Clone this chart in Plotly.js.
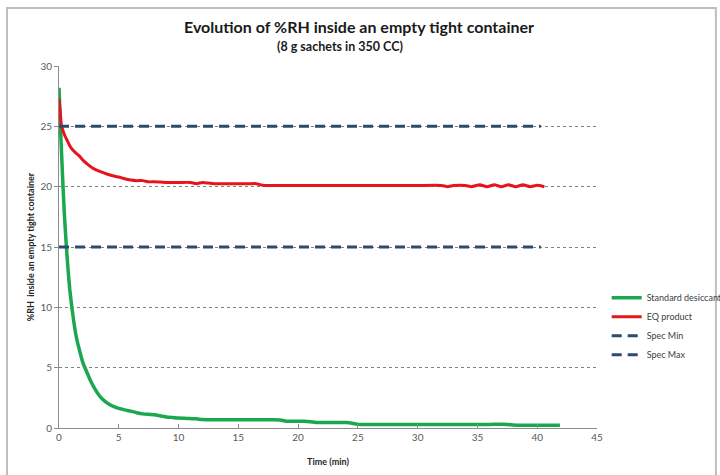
<!DOCTYPE html>
<html>
<head>
<meta charset="utf-8">
<script src="https://cdn.plot.ly/plotly-3.0.1.min.js"></script>
<style>html,body{margin:0;padding:0;background:#fff;}#chart{width:720px;height:475px;}</style>
</head>
<body>
<div id="chart"></div>
<script>
// Standard desiccant
const greenTime = [0, 0.15, 0.3, 0.45, 0.6, 0.75, 0.9, 1.1, 1.3, 1.5, 1.75, 2.0, 2.3, 2.6, 3.0, 3.4, 3.8, 4.2, 4.6, 5.0, 5.5, 6.0, 6.5, 7.0, 7.5, 8.0, 8.5, 9.0, 9.5, 10.0, 10.5, 11.0, 11.5, 12.0, 13, 14, 15, 16, 17, 18, 18.5, 19, 20, 20.5, 21, 21.5, 22, 23, 24, 24.6, 25, 26, 28, 30, 32, 34, 36, 37.5, 38, 38.5, 39, 40, 41, 41.9];
const greenRH = [28.2, 24.3, 20.8, 17.7, 15.3, 13.2, 11.5, 9.8, 8.4, 7.3, 6.3, 5.4, 4.7, 4.0, 3.25, 2.65, 2.25, 1.97, 1.77, 1.62, 1.5, 1.4, 1.27, 1.17, 1.13, 1.1, 1.0, 0.92, 0.87, 0.82, 0.8, 0.78, 0.76, 0.7, 0.68, 0.68, 0.68, 0.68, 0.68, 0.68, 0.66, 0.56, 0.55, 0.55, 0.52, 0.45, 0.45, 0.45, 0.45, 0.38, 0.3, 0.3, 0.3, 0.3, 0.3, 0.3, 0.3, 0.3, 0.25, 0.22, 0.22, 0.22, 0.22, 0.22];
// EQ product
const redTime = [0, 0.1, 0.2, 0.35, 0.5, 0.7, 0.9, 1.1, 1.4, 1.7, 2.0, 2.4, 2.8, 3.2, 3.6, 4.0, 4.5, 5.0, 5.5, 6.0, 6.5, 7.0, 7.5, 8.0, 9.0, 10.0, 11.0, 11.5, 12.0, 12.5, 13.0, 14, 15, 16, 16.5, 17, 18, 20, 22, 24, 26, 28, 30, 32, 32.5, 33, 34, 34.5, 35.2, 35.8, 36.4, 37.0, 37.6, 38.2, 38.8, 39.4, 40.0, 40.6];
const redRH = [27.3, 26.2, 25.1, 24.6, 24.2, 23.8, 23.4, 23.1, 22.8, 22.55, 22.2, 21.85, 21.55, 21.35, 21.2, 21.05, 20.9, 20.8, 20.65, 20.55, 20.5, 20.5, 20.4, 20.4, 20.35, 20.35, 20.35, 20.25, 20.35, 20.3, 20.25, 20.25, 20.25, 20.25, 20.25, 20.12, 20.1, 20.1, 20.1, 20.1, 20.1, 20.1, 20.1, 20.1, 20.0, 20.1, 20.1, 20.0, 20.15, 20.0, 20.15, 20.0, 20.15, 20.0, 20.15, 20.0, 20.12, 20.0];
// Specs
const specTime = [0, 40.3];
const specMin = [15, 15];
const specMax = [25, 25];
const xTicks = [0, 5, 10, 15, 20, 25, 30, 35, 40, 45];
const yTicks = [0, 5, 10, 15, 20, 25, 30];

const FONT = 'Lato, "Open Sans", sans-serif';
const specColor = '#2E4B6E';
const traces = [
  {x: greenTime, y: greenRH, name: 'Standard desiccant', mode: 'lines', line: {color: '#19A84E', width: 3.5, shape: 'spline', smoothing: 0.5}},
  {x: redTime, y: redRH, name: 'EQ product', mode: 'lines', line: {color: '#E8141B', width: 3, shape: 'spline', smoothing: 0.5}},
  {x: specTime, y: specMin, name: 'Spec Min', mode: 'lines', line: {color: specColor, width: 3, dash: '10px,6px'}},
  {x: specTime, y: specMax, name: 'Spec Max', mode: 'lines', line: {color: specColor, width: 3, dash: '10px,6px'}}
];
const layout = {
  width: 720, height: 475,
  margin: {l: 59, r: 123, t: 66, b: 47, autoexpand: false},
  paper_bgcolor: '#fff', plot_bgcolor: '#fff',
  font: {family: FONT, color: '#595959', size: 10},
  showlegend: true,
  legend: {x: 1.018, y: 0.40, xanchor: 'left', yanchor: 'top', itemwidth: 30, font: {size: 9, color: '#404040'}, bgcolor: 'rgba(0,0,0,0)', tracegroupgap: 0},
  xaxis: {range: [0, 45], tickvals: xTicks, ticktext: xTicks.map(String), showgrid: false, zeroline: false,
    showline: true, linecolor: '#8c8c8c', linewidth: 1, ticks: 'inside', ticklen: 4, tickcolor: '#8c8c8c',
    tickfont: {size: 10, color: '#595959'}, fixedrange: true,
    title: {text: 'Time (min)', font: {size: 9, color: '#262626', family: FONT, weight: 'bold'}, standoff: 16}},
  yaxis: {range: [0, 30], tickvals: yTicks, ticktext: yTicks.map(String), showgrid: true, gridcolor: '#7f7f7f', griddash: 'dot', gridwidth: 1,
    zeroline: false, showline: true, linecolor: '#8c8c8c', linewidth: 1, ticks: 'outside', ticklen: 4, tickcolor: '#8c8c8c',
    tickfont: {size: 10, color: '#595959'}, fixedrange: true,
    title: {text: '%RH  inside an empty tight container', font: {size: 9, color: '#262626', family: FONT, weight: 'bold'}, standoff: 4}},
  annotations: [
    {text: '<b>Evolution of %RH inside an empty tight container</b>', xref: 'paper', yref: 'paper', x: 0.558, y: 1.110, xanchor: 'center', yanchor: 'middle', showarrow: false, font: {size: 16, color: '#1a1a1a', family: FONT}},
    {text: '<b>(8 g sachets in 350 CC)</b>', xref: 'paper', yref: 'paper', x: 0.522, y: 1.055, xanchor: 'center', yanchor: 'middle', showarrow: false, font: {size: 12.5, color: '#1a1a1a', family: FONT}}
  ],
  shapes: [
    {type: 'rect', xref: 'paper', yref: 'paper', x0: -0.0967, x1: 1.221, y0: -0.2, y1: 1.160, line: {color: '#bfbfbf', width: 2}, fillcolor: 'rgba(0,0,0,0)', layer: 'below'}
  ]
};
Plotly.newPlot('chart', traces, layout, {displayModeBar: false, staticPlot: true});
</script>
</body>
</html>
